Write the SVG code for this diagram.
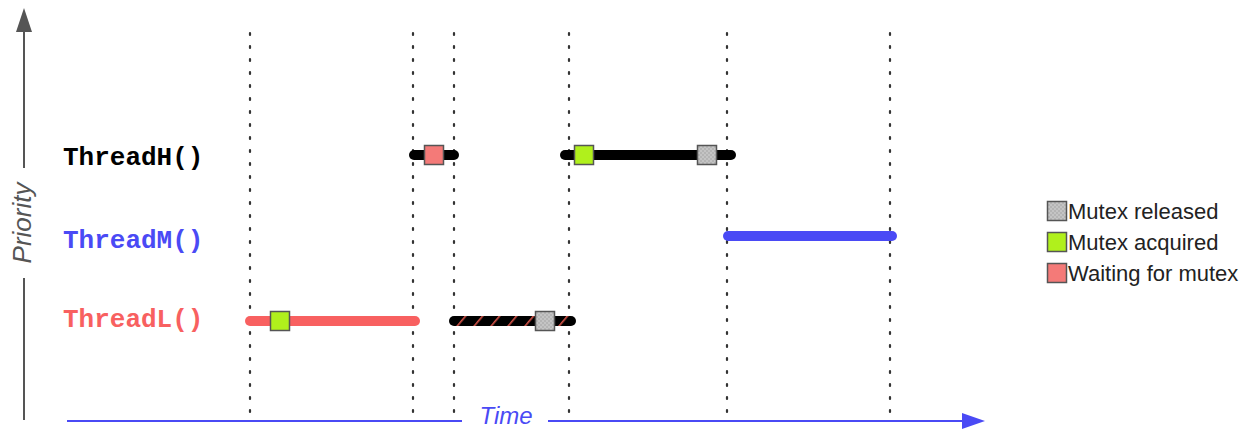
<svg xmlns="http://www.w3.org/2000/svg" width="1255" height="430" viewBox="0 0 1255 430">
<style>
.dot{stroke:#333;stroke-width:2.2;stroke-dasharray:2 11;stroke-linecap:round}
.bar{stroke-width:10;stroke-linecap:round;fill:none}
.lbl{font-family:"Liberation Mono",monospace;font-weight:bold;font-size:26px}
.sq{stroke:#555;stroke-width:1.5}
.leg{font-family:"Liberation Sans",Arial,sans-serif;font-size:22px;fill:#222}
.axl{font-family:"Liberation Sans",Arial,sans-serif;font-style:italic;font-size:26px}
</style>
<defs>
<pattern id="dots" width="4" height="4" patternUnits="userSpaceOnUse">
<rect width="4" height="4" fill="#c4c4c4"/>
<circle cx="1" cy="1" r="0.7" fill="#999"/>
<circle cx="3" cy="3" r="0.7" fill="#999"/>
</pattern>
<pattern id="hatch" width="13" height="13" patternUnits="userSpaceOnUse" patternTransform="rotate(40)">
<rect width="13" height="13" fill="#000"/>
<rect x="0" y="0" width="1.6" height="13" fill="#d9554a"/>
</pattern>
</defs>
<rect width="1255" height="430" fill="#fff"/>
<g id="axes">
<line x1="24" y1="30" x2="24" y2="168" stroke="#555" stroke-width="2"/>
<line x1="24" y1="278" x2="24" y2="420" stroke="#555" stroke-width="2"/>
<polygon points="24,8 32,32 16,32" fill="#555"/>
<text class="axl" x="0" y="0" fill="#555" text-anchor="middle" transform="translate(31,223) rotate(-90)">Priority</text>
<line x1="67" y1="421" x2="462" y2="421" stroke="#4a4af5" stroke-width="2"/>
<line x1="548" y1="421" x2="964" y2="421" stroke="#4a4af5" stroke-width="2"/>
<polygon points="985,421 962,413 962,429" fill="#4a4af5"/>
<text class="axl" x="506" y="424" fill="#4a4af5" text-anchor="middle" style="font-size:24px">Time</text>
</g>
<g id="gridlines">
<line class="dot" x1="250" y1="33" x2="250" y2="418"/>
<line class="dot" x1="413" y1="33" x2="413" y2="418"/>
<line class="dot" x1="454" y1="33" x2="454" y2="418"/>
<line class="dot" x1="569" y1="33" x2="569" y2="418"/>
<line class="dot" x1="727" y1="33" x2="727" y2="418"/>
<line class="dot" x1="890" y1="33" x2="890" y2="418"/>
</g>
<g id="threadH">
<text class="lbl" x="63" y="165" fill="#000">ThreadH()</text>
<line class="bar" x1="414" y1="155" x2="454" y2="155" stroke="#000"/>
<rect class="sq" x="424.5" y="145.5" width="19" height="19" fill="#f47a78"/>
<line class="bar" x1="565" y1="155" x2="731" y2="155" stroke="#000"/>
<rect class="sq" x="574.5" y="145.5" width="19" height="19" fill="#b0f01c"/>
<rect class="sq" x="697.5" y="145.5" width="19" height="19" fill="url(#dots)"/>
</g>
<g id="threadM">
<text class="lbl" x="63" y="248" fill="#4a4af5">ThreadM()</text>
<line class="bar" x1="728" y1="236" x2="892" y2="236" stroke="#4a4af5" stroke-width="11"/>
</g>
<g id="threadL">
<text class="lbl" x="63" y="327" fill="#f86060">ThreadL()</text>
<line class="bar" x1="250" y1="321" x2="415" y2="321" stroke="#f86060"/>
<rect class="sq" x="270.5" y="311.5" width="19" height="19" fill="#b0f01c"/>
<rect x="449" y="316" width="127" height="10" rx="5" fill="url(#hatch)"/>
<rect class="sq" x="535.5" y="311.5" width="19" height="19" fill="url(#dots)"/>
</g>
<g id="legend">
<rect class="sq" x="1047.5" y="201.5" width="19" height="19" fill="url(#dots)"/>
<text class="leg" x="1068" y="219">Mutex released</text>
<rect class="sq" x="1047.5" y="232.5" width="19" height="19" fill="#b0f01c"/>
<text class="leg" x="1068" y="250">Mutex acquired</text>
<rect class="sq" x="1047.5" y="263.5" width="19" height="19" fill="#f47a78"/>
<text class="leg" x="1068" y="281">Waiting for mutex</text>
</g>
</svg>
